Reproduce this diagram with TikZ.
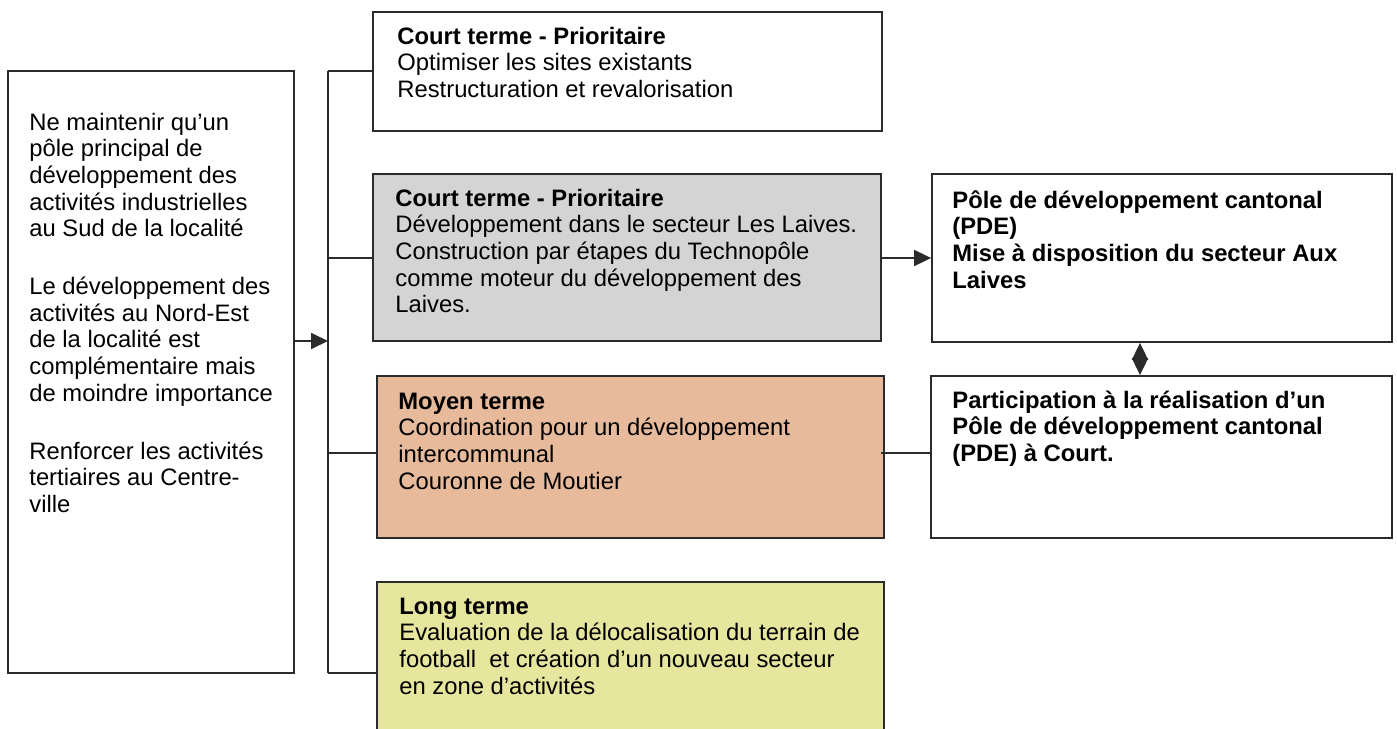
\documentclass[tikz,border=0pt]{standalone}
\usepackage{fontspec}
\setmainfont{Liberation Sans}
\usetikzlibrary{arrows.meta,fit}
\definecolor{lc}{HTML}{2B2B2B}
\definecolor{grayfill}{HTML}{D4D4D4}
\definecolor{orangefill}{HTML}{E6BA9B}
\definecolor{yellowfill}{HTML}{E6E69F}
\newcommand\boxtext[2]{\parbox[t]{#1}{\raggedright #2}}
\begin{document}
\begin{tikzpicture}[x=0.5pt,y=-0.5pt,
  box/.style={draw=lc, line width=0.9pt, inner sep=0pt},
  txt/.style={anchor=base west, inner sep=0pt, font=\fontsize{11.9pt}{13.35pt}\selectfont, text=black},
  link/.style={draw=lc, line width=0.9pt},
  arr/.style={link, -{Triangle[length=8.5pt,width=8pt]}},
  darr/.style={link, {Triangle[length=8.5pt,width=8pt]}-{Triangle[length=8.5pt,width=8pt]}}]
\useasboundingbox (0,0) rectangle (1397,728);
\clip (0,0) rectangle (1397,728);

% boxes
\node[box, fit={(8,71)(294,673)}] (L) {};
\node[box, fit={(373,12)(882,131)}] (b1) {};
\node[box, fill=grayfill, fit={(373,174)(881,341)}] (b2) {};
\node[box, fill=orangefill, fit={(377,376)(884,538)}] (b3) {};
\node[box, fill=yellowfill, fit={(377,582)(884,760)}] (b4) {};
\node[box, fit={(932,174)(1392,342)}] (r1) {};
\node[box, fit={(931,376)(1392,538)}] (r2) {};

% texts
\node[txt] (Lt) at (29,130) {\boxtext{130pt}{Ne maintenir qu’un\\
pôle principal de\\
développement des\\
activités industrielles\\
au Sud de la localité\\[15.5pt]
Le développement des\\
activités au Nord-Est\\
de la localité est\\
complémentaire mais\\
de moindre importance\\[15.5pt]
Renforcer les activités\\
tertiaires au Centre-\\
ville}};

\node[txt] (b1t) at (397,44) {\boxtext{240pt}{\textbf{Court terme - Prioritaire}\\
Optimiser les sites existants\\
Restructuration et revalorisation}};

\node[txt] (b2t) at (395,206) {\boxtext{240pt}{\textbf{Court terme - Prioritaire}\\
Développement dans le secteur Les Laives.\\
Construction par étapes du Technopôle\\
comme moteur du développement des\\
Laives.}};

\node[txt] (b3t) at (398,409) {\boxtext{240pt}{\textbf{Moyen terme}\\
Coordination pour un développement\\
intercommunal\\
Couronne de Moutier}};

\node[txt] (b4t) at (399,614) {\boxtext{240pt}{\textbf{Long terme}\\
Evaluation de la délocalisation du terrain de\\
football\ \ et création d’un nouveau secteur\\
en zone d’activités}};

\node[txt] (r1t) at (952,208) {\boxtext{215pt}{\bfseries Pôle de développement cantonal\\
(PDE)\\
Mise à disposition du secteur Aux\\
Laives}};

\node[txt] (r2t) at (952,408) {\boxtext{215pt}{\bfseries Participation à la réalisation d’un\\
Pôle de développement cantonal\\
(PDE) à Court.}};

% bracket
\coordinate (j1) at (328,71);
\coordinate (j2) at (328,258);
\coordinate (j3) at (328,453);
\coordinate (j4) at (328,673);
\coordinate (ja) at (328,341);
\draw[link] (j1) -- (j4);
\draw[link] (j1) -- (j1 -| b1.west);
\draw[link] (j2) -- (j2 -| b2.west);
\draw[link] (j3) -- (j3 -| b3.west);
\draw[link] (j4) -- (j4 -| b4.west);
\draw[arr] (ja -| L.east) -- (ja);

% right side
\coordinate (k2) at (881,258);
\draw[arr] (k2) -- (k2 -| r1.west);
\coordinate (k3) at (881,453);
\draw[link] (k3) -- (k3 -| r2.west);
\coordinate (d) at (1140,360);
\draw[darr] (d |- r1.south) -- (d |- r2.north);
\end{tikzpicture}
\end{document}
